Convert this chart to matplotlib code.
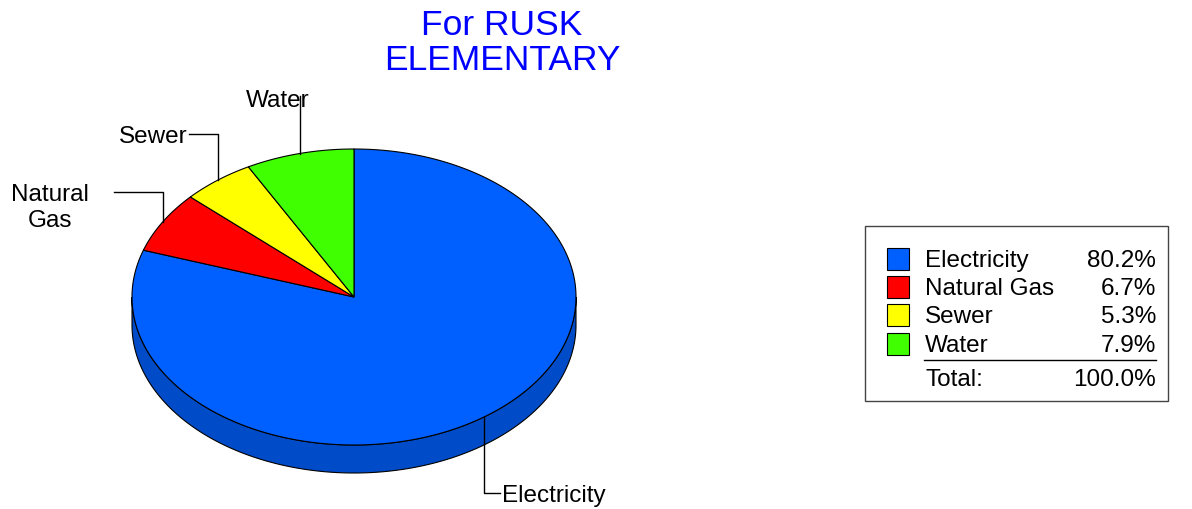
import numpy as np
import matplotlib.pyplot as plt

plt.rcParams['font.family'] = ['Liberation Sans', 'DejaVu Sans']

# data
categories = ['Electricity', 'Natural Gas', 'Sewer', 'Water']
shares = [80.2, 6.7, 5.3, 7.9]
total_share = 100.0
colors = ['#0060ff', '#ff0000', '#ffff00', '#40ff00']
side_colors = ['#004cc8', '#c80000', '#c8c800', '#30c800']
title = 'For RUSK\nELEMENTARY'

# pie geometry, in pixels
cx, cy = 354, 298
rx, ry = 222, 148
depth = 28

fig = plt.figure(figsize=(11.92, 5.10), dpi=100)
ax = fig.add_axes([0, 0, 1, 1])
ax.set_xlim(0, 1192)
ax.set_ylim(510, 0)
ax.axis('off')


def pt(deg, dy=0):
    t = np.radians(deg)
    return cx + rx * np.cos(t), cy - ry * np.sin(t) + dy


# slice angles: start at top, go clockwise
fr = np.array(shares) / sum(shares)
ends = 90 - np.cumsum(fr) * 360
starts = np.concatenate([[90], ends[:-1]])

# side wall, only the front half (-180..0 deg) shows
for s, e, sc in zip(starts, ends, side_colors):
    a0 = max(e, -180)
    a1 = min(s, 0)
    if a1 <= a0:
        continue
    th = np.linspace(a0, a1, 200)
    xs, ys = pt(th)
    xb, yb = pt(th[::-1], depth)
    ax.fill(np.concatenate([xs, xb]), np.concatenate([ys, yb]),
            facecolor=sc, edgecolor='black', lw=0.8, zorder=1)

# top wedges
for s, e, c in zip(starts, ends, colors):
    th = np.linspace(s, e, 300)
    xs, ys = pt(th)
    ax.fill(np.concatenate([[cx], xs]), np.concatenate([[cy], ys]),
            facecolor=c, edgecolor='black', lw=0.8, zorder=2)

# leader lines and labels
mids = (starts + ends) / 2
lk = dict(color='black', lw=1, zorder=3)
fs = 17.5

# Electricity
x0, y0 = pt(mids[0])
ax.plot([x0, x0, x0 + 16], [y0, 494, 494], **lk)
ax.text(x0 + 18, 496, 'Electricity', fontsize=fs, ha='left', va='center')

# Natural Gas
x0, y0 = pt(mids[1])
ax.plot([x0, x0, 114], [y0, 193, 193], **lk)
ax.text(50, 208, 'Natural\nGas', fontsize=fs, ha='center', va='center',
        linespacing=1.2)

# Sewer
x0, y0 = pt(mids[2])
ax.plot([x0, x0, 189], [y0, 135, 135], **lk)
ax.text(188, 137, 'Sewer', fontsize=fs, ha='right', va='center')

# Water
x0, y0 = pt(mids[3])
ax.plot([x0, x0], [y0, 97], **lk)
ax.text(310, 101, 'Water', fontsize=fs, ha='right', va='center')

# title
ax.text(502, 43, title, fontsize=25.5, color='#0000ff', ha='center',
        va='center', linespacing=1.1)

# legend box
ax.add_patch(plt.Rectangle((865, 227), 303, 175, facecolor='white',
                           edgecolor='#444444', lw=1, zorder=4))
row_y = [260, 288, 316, 345]
for yy, name, val, c in zip(row_y, categories, shares, colors):
    ax.add_patch(plt.Rectangle((887, yy - 11), 22, 22, facecolor=c,
                               edgecolor='black', lw=0.8, zorder=5))
    ax.text(925, yy + 1, name, fontsize=fs, ha='left', va='center', zorder=5)
    ax.text(1156, yy + 1, f'{val:.1f}%', fontsize=fs, ha='right',
            va='center', zorder=5)
ax.plot([924, 1156], [361, 361], color='black', lw=1, zorder=5)
ax.text(925, 380, 'Total:', fontsize=fs, ha='left', va='center', zorder=5)
ax.text(1156, 380, f'{total_share:.1f}%', fontsize=fs, ha='right',
        va='center', zorder=5)

fig.savefig('out.png', dpi=100)
